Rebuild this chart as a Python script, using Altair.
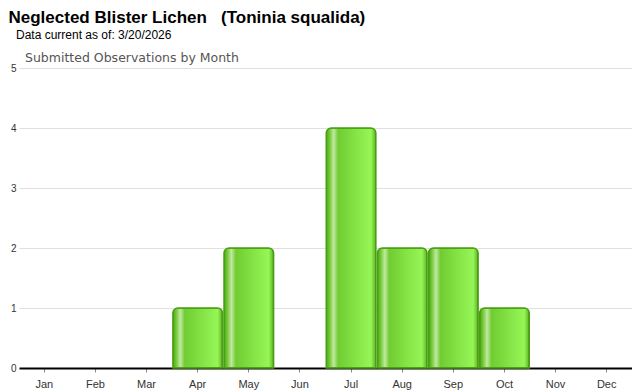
import altair as alt
import pandas as pd

months = ["Jan", "Feb", "Mar", "Apr", "May", "Jun", "Jul", "Aug", "Sep", "Oct", "Nov", "Dec"]
counts = [0, 0, 0, 1, 2, 0, 4, 2, 2, 1, 0, 0]

title_text = "Neglected Blister Lichen\u00a0\u00a0\u00a0(Toninia squalida)"
subtitle_text = "Data current as of: 3/20/2026"
chart_label = "Submitted Observations by Month"

df = pd.DataFrame({"month": months, "count": counts})

grad = alt.Gradient(
    gradient="linear",
    x1=0, x2=1, y1=0, y2=0,
    stops=[
        alt.GradientStop(offset=0.0, color="#4fa818"),
        alt.GradientStop(offset=0.06, color="#6cc630"),
        alt.GradientStop(offset=0.15, color="#c2e8a0"),
        alt.GradientStop(offset=0.24, color="#70cc32"),
        alt.GradientStop(offset=0.6, color="#86e446"),
        alt.GradientStop(offset=0.9, color="#96f656"),
        alt.GradientStop(offset=1.0, color="#5cb422"),
    ],
)

x_enc = alt.X(
    "month:N", title=None,
    scale=alt.Scale(domain=months, paddingInner=0.03, paddingOuter=0.01),
    axis=alt.Axis(
        labelAngle=0, labelFont="Liberation Sans", labelFontSize=11, labelColor="#333333",
        domainColor="#000000", domainWidth=2, tickColor="#888888", tickSize=4,
        labelPadding=6, grid=False,
    ),
)
y_enc = alt.Y(
    "count:Q", title=None,
    scale=alt.Scale(domain=[0, 5], nice=False),
    axis=alt.Axis(
        values=[0, 1, 2, 3, 4, 5], labelFont="Liberation Sans", labelFontSize=10,
        labelColor="#333333", domain=False, ticks=False, labelPadding=3,
        gridColor="#e0e0e0", gridWidth=1,
    ),
)

bars = alt.Chart(df).transform_filter("datum.count > 0").mark_bar(
    color=grad, stroke="#4a9e12", strokeWidth=1.5,
    cornerRadiusTopLeft=5, cornerRadiusTopRight=5,
).encode(x=x_enc, y=y_enc)

title_df = pd.DataFrame({"t": [title_text]})
t1 = alt.Chart(title_df).mark_text(
    align="left", baseline="top", font="Liberation Sans", fontSize=17,
    fontWeight="bold", color="#000000",
).encode(text="t:N", x=alt.value(-10.5), y=alt.value(-58.5))

sub_df = pd.DataFrame({"t": [subtitle_text]})
t2 = alt.Chart(sub_df).mark_text(
    align="left", baseline="alphabetic", font="Liberation Sans", fontSize=12,
    color="#000000",
).encode(text="t:N", x=alt.value(-3), y=alt.value(-29))

lab_df = pd.DataFrame({"t": [chart_label]})
t3 = alt.Chart(lab_df).mark_text(
    align="left", baseline="alphabetic", font="DejaVu Sans", fontSize=12.5,
    color="#555555",
).encode(text="t:N", x=alt.value(6), y=alt.value(-6))

chart = alt.layer(bars, t1, t2, t3).properties(
    width=613, height=300,
    autosize=alt.AutoSizeParams(type="none"),
    padding={"left": 11, "top": 60, "right": 0, "bottom": 22},
).configure_view(stroke=None)

chart.save("out.html", embed_options={"renderer": "svg", "actions": False})
